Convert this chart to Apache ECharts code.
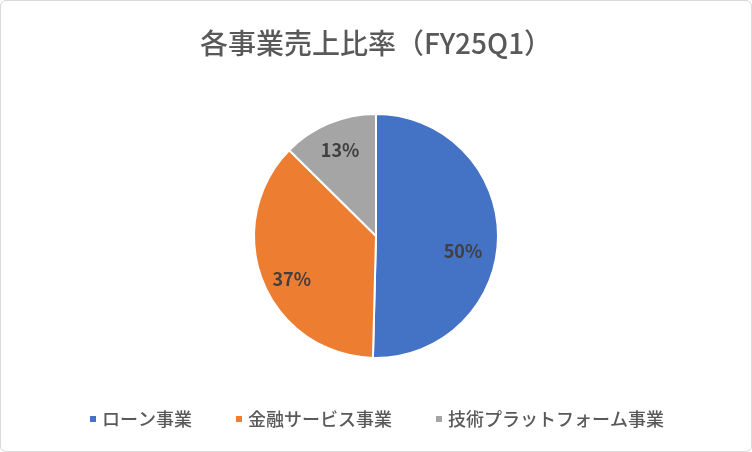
<!DOCTYPE html>
<html lang="ja">
<head>
    <meta charset="UTF-8">
    <title>各事業売上比率</title>
    <script src="https://cdn.jsdelivr.net/npm/echarts@6/dist/echarts.min.js"></script>
    <style>
        html, body { margin: 0; padding: 0; background: #fff; }
        #main { width: 750px; height: 450px; border: 1px solid #d9d9d9; border-radius: 6px; }
    </style>
</head>
<body>
<div id="main"></div>
<script type="text/javascript">
    // 事業区分と売上比率（%）
    var categories = ['ローン事業', '金融サービス事業', '技術プラットフォーム事業'];
    var shares = [50.4, 37.0, 12.6];
    var colors = ['#4472C4', '#ED7D31', '#A5A5A5'];

    var font = '"Noto Sans CJK JP", "Noto Sans", sans-serif';

    var myChart = echarts.init(document.getElementById('main'));
    // Excel風のラベル位置に少し寄せる
    var nudge = [[-6, 14], [2, 8], [0, 0]];
    var option = {
        animation: false,
        title: {
            text: '各事業売上比率（FY25Q1）',
            left: 'center',
            top: 23,
            textStyle: { fontFamily: font, fontSize: 28, fontWeight: 500, color: '#595959' }
        },
        legend: {
            bottom: 18,
            left: 'center',
            icon: 'rect',
            itemWidth: 8,
            itemHeight: 8,
            itemGap: 42,
            data: categories,
            textStyle: { fontFamily: font, fontSize: 18, fontWeight: 500, color: '#595959' }
        },
        series: [
            {
                // 扇形本体
                type: 'pie',
                center: [375, 235],
                radius: [0, 122],
                startAngle: 90,
                data: categories.map(function (name, i) {
                    return { name: name, value: shares[i], itemStyle: { color: colors[i] } };
                }),
                itemStyle: { borderColor: '#fff', borderWidth: 2 },
                label: { show: false },
                labelLine: { show: false }
            },
            {
                // ラベル位置用（透明）
                type: 'pie',
                silent: true,
                center: [375, 235],
                radius: [0, 180],
                startAngle: 90,
                data: categories.map(function (name, i) {
                    return {
                        name: name,
                        value: shares[i],
                        itemStyle: { color: 'rgba(0,0,0,0)' },
                        label: { offset: nudge[i] }
                    };
                }),
                label: {
                    show: true,
                    position: 'inside',
                    formatter: function (p) { return Math.round(p.value) + '%'; },
                    fontFamily: font,
                    fontSize: 18,
                    fontWeight: 'bold',
                    color: '#404040'
                },
                labelLine: { show: false }
            }
        ]
    };
    myChart.setOption(option);
</script>
</body>
</html>
